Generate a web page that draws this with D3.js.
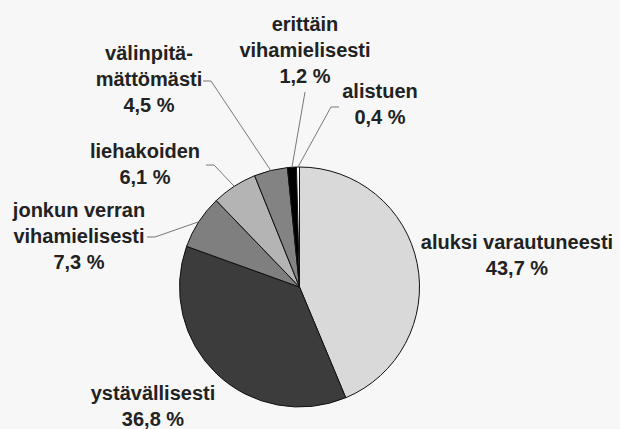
<!DOCTYPE html>
<html lang="fi">
<head>
<meta charset="UTF-8">
<title>Pie</title>
<script src="https://cdn.jsdelivr.net/npm/d3@7"></script>
<style>
    body { margin: 0; background: #f7f7f7; }
    svg { display: block; background: #f7f7f7; }
    text { font-family: "Liberation Sans", Arial, sans-serif; font-weight: bold; font-size: 20px; fill: #222; }
</style>
</head>
<body>
<script>
'use strict';
// data
var categories = [
    ['aluksi varautuneesti'],
    ['ystävällisesti'],
    ['jonkun verran', 'vihamielisesti'],
    ['liehakoiden'],
    ['välinpitä-', 'mättömästi'],
    ['erittäin', 'vihamielisesti'],
    ['alistuen']
];
var values = [43.7, 36.8, 7.3, 6.1, 4.5, 1.2, 0.4];
var fills = ['#d9d9d9', '#3c3c3c', '#7f7f7f', '#b4b4b4', '#838383', '#000000', '#ffffff'];

// layout: label anchor (centre x, first baseline) and leader start
var labelPos = [[517, 249], [153, 400], [79, 217], [145, 158], [149, 60], [305, 31], [380, 98]];
var leaders = [null, null, [147, 237, 155, 237], [206, 165, 214, 165], [203, 81, 211, 81], [305, 92, 305, 92], [339, 107, 331, 107]];

var w = 620, h = 429, cx = 299.5, cy = 287, r = 120, lineH = 26;

var svg = d3.select('body').append('svg')
    .attr('width', w)
    .attr('height', h);

var g = svg.append('g').attr('transform', 'translate(' + cx + ',' + cy + ')');

var pie = d3.pie().sort(null).value(function(d) { return d; });
var arcs = pie(values);

var arc = d3.arc().innerRadius(0).outerRadius(r);
var edge = d3.arc().innerRadius(r).outerRadius(r);

g.selectAll('path')
    .data(arcs)
    .enter()
    .append('path')
    .attr('d', arc)
    .attr('fill', function(d, i) { return fills[i]; })
    .attr('stroke', '#111')
    .attr('stroke-width', 1);

var fmt = d3.format('.1f');

// leader lines
var line = d3.line();
svg.selectAll('path.leader')
    .data(arcs.filter(function(d, i) { return leaders[i]; }))
    .enter()
    .append('path')
    .attr('class', 'leader')
    .attr('fill', 'none')
    .attr('stroke', '#777')
    .attr('stroke-width', 1)
    .attr('d', function(d) {
        var l = leaders[d.index];
        var c = edge.centroid(d);
        return line([[l[0], l[1]], [l[2], l[3]], [cx + c[0], cy + c[1]]]);
    });

// labels
var labels = svg.selectAll('text.lbl')
    .data(arcs)
    .enter()
    .append('text')
    .attr('class', 'lbl')
    .attr('text-anchor', 'middle');

labels.each(function(d, i) {
    var t = d3.select(this);
    var lines = categories[i].concat([fmt(values[i]).replace('.', ',') + ' %']);
    lines.forEach(function(s, k) {
        t.append('tspan')
            .attr('x', labelPos[i][0])
            .attr('y', labelPos[i][1] + k * lineH)
            .text(s);
    });
});
</script>
</body>
</html>
